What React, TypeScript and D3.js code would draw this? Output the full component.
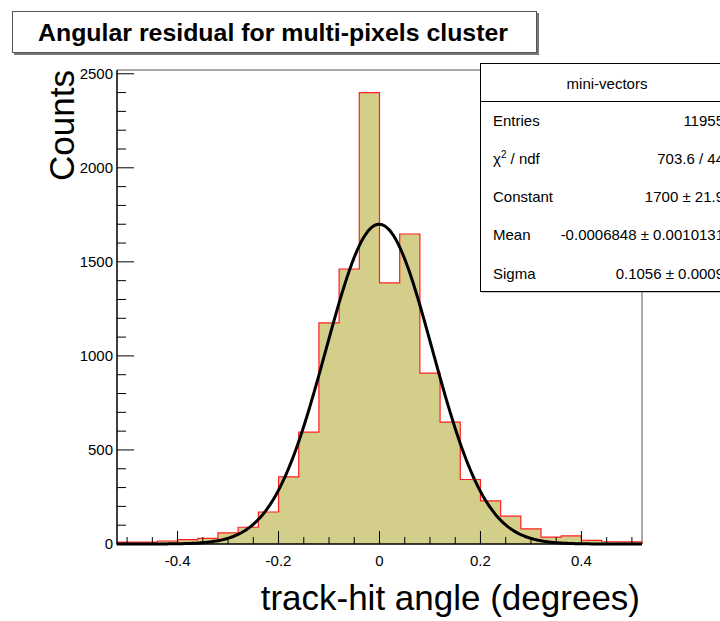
import React, { useEffect, useRef } from "react";
import * as d3 from "d3";

// histogram contents, 26 bins of 0.04 starting at -0.52
const binStart = -0.52;
const binWidth = 0.04;
const counts = [
  10, 10, 16, 23, 30, 59, 89, 170, 357, 595, 1176, 1462, 2400,
  1388, 1648, 908, 648, 343, 229, 148, 80, 37, 43, 19, 12, 11,
];

// gaussian fit
const fitConstant = 1700;
const fitMean = -0.0006848;
const fitSigma = 0.1056;

const xMajorTicks = [-0.4, -0.2, 0, 0.2, 0.4];
const xTickLabels = ["-0.4", "-0.2", "0", "0.2", "0.4"];
const yMajorTicks = [0, 500, 1000, 1500, 2000, 2500];

const statsTitle = "mini-vectors";
const statsNames = ["Entries", "chi2", "Constant", "Mean", "Sigma"];
const statsValues = [
  "11955",
  "703.6 / 44",
  "1700 \u00b1 21.9",
  "-0.0006848 \u00b1 0.0010131",
  "0.1056 \u00b1 0.0009",
];

const FONT = "'Liberation Sans', Arial, Helvetica, sans-serif";

export default function App() {
  const svgRef = useRef<SVGSVGElement>(null);

  useEffect(() => {
    const svg = d3.select(svgRef.current);
    svg.selectAll("*").remove();

    const width = 720;
    const height = 621;
    const left = 117,
      right = 642,
      top = 70,
      bottom = 544;

    const xMin = binStart;
    const xMax = binStart + counts.length * binWidth;
    const x = d3.scaleLinear().domain([xMin, xMax]).range([left, right]);
    const y = d3.scaleLinear().domain([0, 2520]).range([bottom, top]);

    svg.append("rect").attr("width", width).attr("height", height).attr("fill", "white");

    // histogram outline path
    let d = `M${x(xMin)},${y(0)}`;
    counts.forEach((c, i) => {
      const x0 = x(binStart + i * binWidth);
      const x1 = x(binStart + (i + 1) * binWidth);
      d += `L${x0},${y(c)}L${x1},${y(c)}`;
    });
    d += `L${x(xMax)},${y(0)}`;

    svg.append("path").attr("d", d + "Z").attr("fill", "#d3ce89").attr("stroke", "none");
    svg
      .append("path")
      .attr("d", d)
      .attr("fill", "none")
      .attr("stroke", "#ff2020")
      .attr("stroke-width", 1.2);

    // fit curve
    const pts = d3.range(0, 401).map((i) => xMin + ((xMax - xMin) * i) / 400);
    const gaus = (v) => fitConstant * Math.exp(-0.5 * ((v - fitMean) / fitSigma) ** 2);
    const line = d3
      .line<number>()
      .x((v) => x(v))
      .y((v) => y(gaus(v)));
    svg
      .append("path")
      .attr("d", line(pts))
      .attr("fill", "none")
      .attr("stroke", "black")
      .attr("stroke-width", 3);

    // frame
    svg
      .append("path")
      .attr("d", `M${left},${top}H${right}V${bottom}`)
      .attr("fill", "none")
      .attr("stroke", "#555")
      .attr("stroke-width", 1);
    svg
      .append("path")
      .attr("d", `M${left},${top}V${bottom}H${right}`)
      .attr("fill", "none")
      .attr("stroke", "black")
      .attr("stroke-width", 1.5);

    // x ticks
    const xMinor = d3.range(-10, 11).map((i) => i * 0.05);
    svg
      .selectAll(".xminor")
      .data(xMinor)
      .enter()
      .append("line")
      .attr("x1", (v) => x(v))
      .attr("x2", (v) => x(v))
      .attr("y1", bottom)
      .attr("y2", (v) => (xMajorTicks.some((m) => Math.abs(m - v) < 1e-6) ? bottom - 13 : bottom - 7))
      .attr("stroke", "black")
      .attr("stroke-width", 1);
    svg
      .selectAll(".xlab")
      .data(xMajorTicks)
      .enter()
      .append("text")
      .attr("x", (v) => x(v))
      .attr("y", 566)
      .attr("text-anchor", "middle")
      .attr("font-family", FONT)
      .attr("font-size", 15)
      .text((v, i) => xTickLabels[i]);

    // y ticks
    const yMinor = d3.range(0, 26).map((i) => i * 100);
    svg
      .selectAll(".yminor")
      .data(yMinor)
      .enter()
      .append("line")
      .attr("x1", left)
      .attr("x2", (v) => (v % 500 === 0 ? left + 17 : left + 9))
      .attr("y1", (v) => y(v))
      .attr("y2", (v) => y(v))
      .attr("stroke", "black")
      .attr("stroke-width", 1);
    svg
      .selectAll(".ylab")
      .data(yMajorTicks)
      .enter()
      .append("text")
      .attr("x", left - 4)
      .attr("y", (v) => y(v) + 5)
      .attr("text-anchor", "end")
      .attr("font-family", FONT)
      .attr("font-size", 15)
      .text((v) => String(v));

    // axis titles
    svg
      .append("text")
      .attr("x", right - 2)
      .attr("y", 610)
      .attr("text-anchor", "end")
      .attr("font-family", FONT)
      .attr("font-size", 35)
      .text("track-hit angle (degrees)");
    svg
      .append("text")
      .attr("transform", `translate(74, ${top}) rotate(-90)`)
      .attr("text-anchor", "end")
      .attr("font-family", FONT)
      .attr("font-size", 35)
      .text("Counts");

    // title box
    svg
      .append("rect")
      .attr("x", 14)
      .attr("y", 13)
      .attr("width", 525)
      .attr("height", 42)
      .attr("fill", "#777");
    svg
      .append("rect")
      .attr("x", 12.5)
      .attr("y", 11.5)
      .attr("width", 524)
      .attr("height", 41)
      .attr("fill", "white")
      .attr("stroke", "#555");
    svg
      .append("text")
      .attr("x", 273)
      .attr("y", 41)
      .attr("text-anchor", "middle")
      .attr("font-family", FONT)
      .attr("font-weight", "bold")
      .attr("font-size", 24)
      .attr("textLength", 470)
      .attr("lengthAdjust", "spacingAndGlyphs")
      .text("Angular residual for multi-pixels cluster");

    // stats box
    const sb = { x: 480.5, y: 63.5, w: 254, h: 228 };
    svg
      .append("rect")
      .attr("x", sb.x + 1)
      .attr("y", sb.y + 1)
      .attr("width", sb.w)
      .attr("height", sb.h)
      .attr("fill", "#888");
    svg
      .append("rect")
      .attr("x", sb.x)
      .attr("y", sb.y)
      .attr("width", sb.w)
      .attr("height", sb.h)
      .attr("fill", "white")
      .attr("stroke", "black");
    svg
      .append("line")
      .attr("x1", sb.x)
      .attr("x2", sb.x + sb.w)
      .attr("y1", 101.5)
      .attr("y2", 101.5)
      .attr("stroke", "black");
    svg
      .append("text")
      .attr("x", 607)
      .attr("y", 89)
      .attr("text-anchor", "middle")
      .attr("font-family", FONT)
      .attr("font-size", 15)
      .text(statsTitle);

    const rowY = d3.scaleLinear().domain([0, 4]).range([120, 273]);
    statsNames.forEach((name, i) => {
      const t = svg
        .append("text")
        .attr("x", 493)
        .attr("y", rowY(i) + 5.5)
        .attr("font-family", FONT)
        .attr("font-size", 15);
      if (name === "chi2") {
        t.append("tspan").text("\u03c7");
        t.append("tspan").attr("font-size", 10).attr("dy", -6).text("2");
        t.append("tspan").attr("dy", 6).text(" / ndf");
      } else {
        t.text(name);
      }
      svg
        .append("text")
        .attr("x", 724)
        .attr("y", rowY(i) + 5.5)
        .attr("text-anchor", "end")
        .attr("font-family", FONT)
        .attr("font-size", 15)
        .text(statsValues[i]);
    });
  }, []);

  return (
    <svg
      ref={svgRef}
      width={720}
      height={621}
      style={{ position: "absolute", left: 0, top: 0, display: "block" }}
    ></svg>
  );
}
